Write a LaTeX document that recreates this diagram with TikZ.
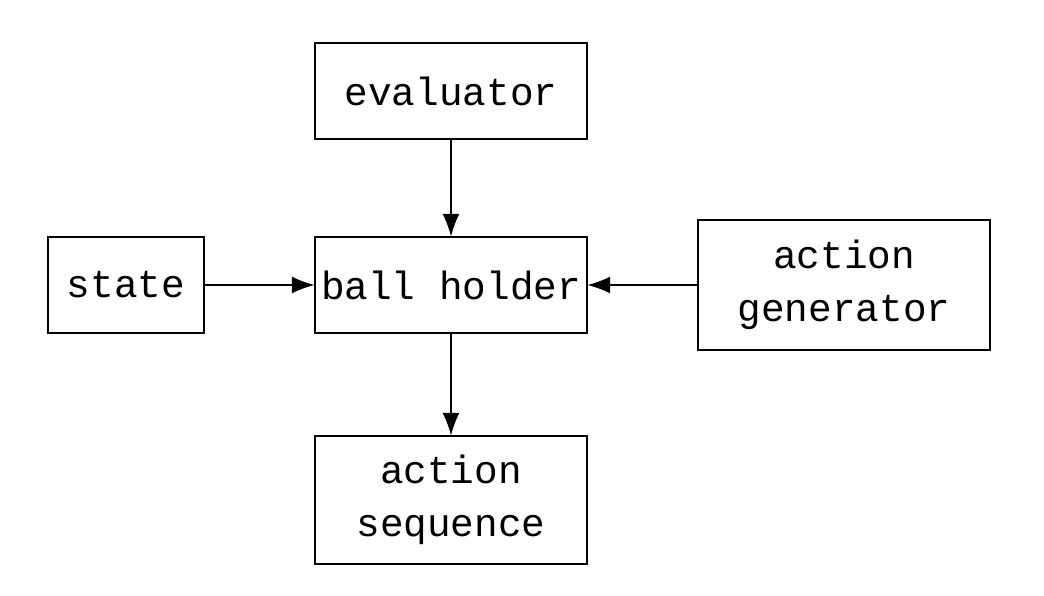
\documentclass[tikz,border=0pt]{standalone}
\usepackage{fontspec}
\setmonofont{Liberation Mono}
\usetikzlibrary{arrows.meta, positioning}

\begin{document}
\begin{tikzpicture}[
        x=0.025cm, y=-0.025cm,
        box/.style={rectangle, draw=black, thick, minimum width=6.8cm, minimum height=2.4cm, align=center, font=\ttfamily\fontsize{28}{38}\selectfont, inner sep=0pt},
        arr/.style={-{Latex[length=16pt,width=12pt]}, thick}
    ]
        \useasboundingbox (0,0) rectangle (1044,596);
        \node[box] (holder) at (451,285) {ball holder};
        \node[box] (eval) at (451,91) {evaluator};
        \node[box, minimum width=3.9cm] (state) at (126,285) {state};
        \node[box, minimum width=7.3cm, minimum height=3.25cm] (gen) at (844,285) {action\\generator};
        \node[box, minimum height=3.2cm] (seq) at (451,500) {action\\sequence};

        \draw[arr] (eval) -- (holder);
        \draw[arr] (state) -- (holder);
        \draw[arr] (gen) -- (holder);
        \draw[arr] (holder) -- (seq);
    \end{tikzpicture}
\end{document}
